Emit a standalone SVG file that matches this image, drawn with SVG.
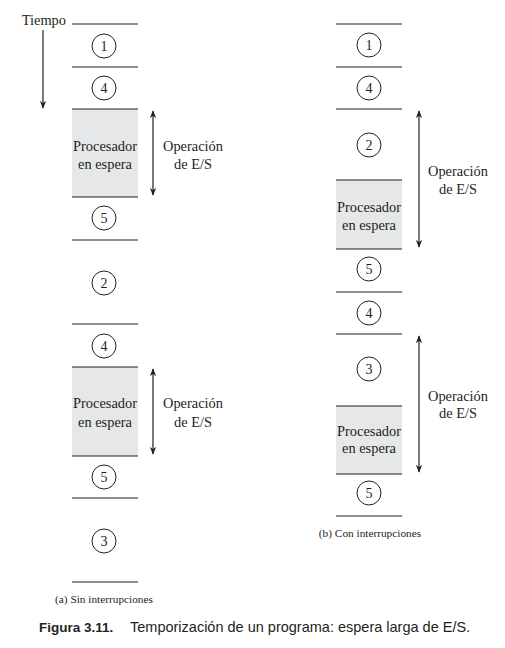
<svg xmlns="http://www.w3.org/2000/svg" width="505" height="648" viewBox="0 0 505 648">
<defs>
<style>
.t{font-family:"Liberation Serif","Times New Roman",serif;font-size:14.4px;fill:#231f20;text-anchor:middle}
.n{font-family:"Liberation Serif","Times New Roman",serif;font-size:14px;fill:#231f20;text-anchor:middle}
.c{fill:#fff;stroke:#231f20;stroke-width:1}
.l{stroke:#231f20;stroke-width:1;fill:none}
.g{fill:#e6e7e8;stroke:none}
.a{stroke:#231f20;stroke-width:1.2;fill:none;marker-start:url(#ah);marker-end:url(#ah)}
.cap{font-family:"Liberation Serif","Times New Roman",serif;font-size:11.3px;fill:#231f20;text-anchor:middle}
.fig{font-family:"Liberation Sans",Arial,sans-serif;font-size:14.5px;fill:#231f20}
</style>
<marker id="ah" viewBox="0 0 10 8" refX="9" refY="4" markerWidth="8" markerHeight="6.4" orient="auto-start-reverse" markerUnits="userSpaceOnUse">
<path d="M0,0 L10,4 L0,8 L3,4 Z" fill="#231f20"/>
</marker>
</defs>

<g id="tiempo">
<text x="66" y="25" class="t" style="text-anchor:end">Tiempo</text>
<line x1="43" y1="30" x2="43" y2="108" class="l" style="marker-end:url(#ah);stroke-width:1.2"/>
</g>

<g id="colA">
<rect class="g" x="72" y="109" width="66" height="88"/>
<rect class="g" x="72" y="367" width="66" height="89"/>
<line class="l" x1="72" y1="24" x2="138" y2="24"/>
<line class="l" x1="72" y1="67" x2="138" y2="67"/>
<line class="l" x1="72" y1="109" x2="138" y2="109"/>
<line class="l" x1="72" y1="197" x2="138" y2="197"/>
<line class="l" x1="72" y1="240" x2="138" y2="240"/>
<line class="l" x1="72" y1="324" x2="138" y2="324"/>
<line class="l" x1="72" y1="367" x2="138" y2="367"/>
<line class="l" x1="72" y1="456" x2="138" y2="456"/>
<line class="l" x1="72" y1="498" x2="138" y2="498"/>
<line class="l" x1="72" y1="582" x2="138" y2="582"/>
</g>

<g id="a1"><circle class="c" cx="104" cy="46" r="12"/><text class="n" x="104" y="51">1</text></g>
<g id="a4"><circle class="c" cx="104" cy="88" r="12"/><text class="n" x="104" y="93">4</text></g>
<g id="a_wait1"><text class="t" x="105" y="151">Procesador</text><text class="t" x="105" y="169">en espera</text></g>
<g id="a5"><circle class="c" cx="104" cy="218" r="12"/><text class="n" x="104" y="223">5</text></g>
<g id="a2"><circle class="c" cx="104" cy="283" r="12"/><text class="n" x="104" y="288">2</text></g>
<g id="a4b"><circle class="c" cx="104" cy="346" r="12"/><text class="n" x="104" y="351">4</text></g>
<g id="a_wait2"><text class="t" x="105" y="408">Procesador</text><text class="t" x="105" y="427">en espera</text></g>
<g id="a5b"><circle class="c" cx="104" cy="477" r="12"/><text class="n" x="104" y="482">5</text></g>
<g id="a3"><circle class="c" cx="104" cy="541" r="12"/><text class="n" x="104" y="546">3</text></g>
<g id="a_io1"><text class="t" x="193" y="151">Operación</text><text class="t" x="193" y="169">de E/S</text></g>
<g id="a_io2"><text class="t" x="193" y="408">Operación</text><text class="t" x="193" y="427">de E/S</text></g>
<text class="cap" x="104" y="603">(a) Sin interrupciones</text>

<g id="colB">
<rect class="g" x="336" y="180" width="66" height="69"/>
<rect class="g" x="336" y="406" width="66" height="68"/>
<line class="l" x1="336" y1="24" x2="402" y2="24"/>
<line class="l" x1="336" y1="67" x2="402" y2="67"/>
<line class="l" x1="336" y1="109" x2="402" y2="109"/>
<line class="l" x1="336" y1="180" x2="402" y2="180"/>
<line class="l" x1="336" y1="249" x2="402" y2="249"/>
<line class="l" x1="336" y1="292" x2="402" y2="292"/>
<line class="l" x1="336" y1="334" x2="402" y2="334"/>
<line class="l" x1="336" y1="406" x2="402" y2="406"/>
<line class="l" x1="336" y1="474" x2="402" y2="474"/>
<line class="l" x1="336" y1="516" x2="402" y2="516"/>
</g>

<g id="b1"><circle class="c" cx="369" cy="45" r="12"/><text class="n" x="369" y="50">1</text></g>
<g id="b4"><circle class="c" cx="369" cy="88" r="12"/><text class="n" x="369" y="93">4</text></g>
<g id="b2"><circle class="c" cx="369" cy="145" r="12"/><text class="n" x="369" y="150">2</text></g>
<g id="b_wait1"><text class="t" x="369" y="212">Procesador</text><text class="t" x="369" y="230">en espera</text></g>
<g id="b5"><circle class="c" cx="369" cy="269" r="12"/><text class="n" x="369" y="274">5</text></g>
<g id="b4b"><circle class="c" cx="369" cy="313" r="12"/><text class="n" x="369" y="318">4</text></g>
<g id="b3"><circle class="c" cx="369" cy="369" r="12"/><text class="n" x="369" y="374">3</text></g>
<g id="b_wait2"><text class="t" x="369" y="436">Procesador</text><text class="t" x="369" y="453">en espera</text></g>
<g id="b5b"><circle class="c" cx="369" cy="493" r="12"/><text class="n" x="369" y="498">5</text></g>
<g id="b_io1"><text class="t" x="458" y="176">Operación</text><text class="t" x="458" y="194">de E/S</text></g>
<g id="b_io2"><text class="t" x="458" y="401">Operación</text><text class="t" x="458" y="418">de E/S</text></g>
<text class="cap" x="370" y="537">(b) Con interrupciones</text>

<g id="connectors">
<line class="a" x1="153" y1="111" x2="153" y2="195"/>
<line class="a" x1="153" y1="369" x2="153" y2="454"/>
<line class="a" x1="419" y1="111" x2="419" y2="247"/>
<line class="a" x1="419" y1="336" x2="419" y2="472"/>
</g>

<text class="fig" x="39" y="632"><tspan font-weight="bold" font-size="13.5">Figura 3.11.</tspan><tspan x="130">Temporización de un programa: espera larga de E/S.</tspan></text>
</svg>
